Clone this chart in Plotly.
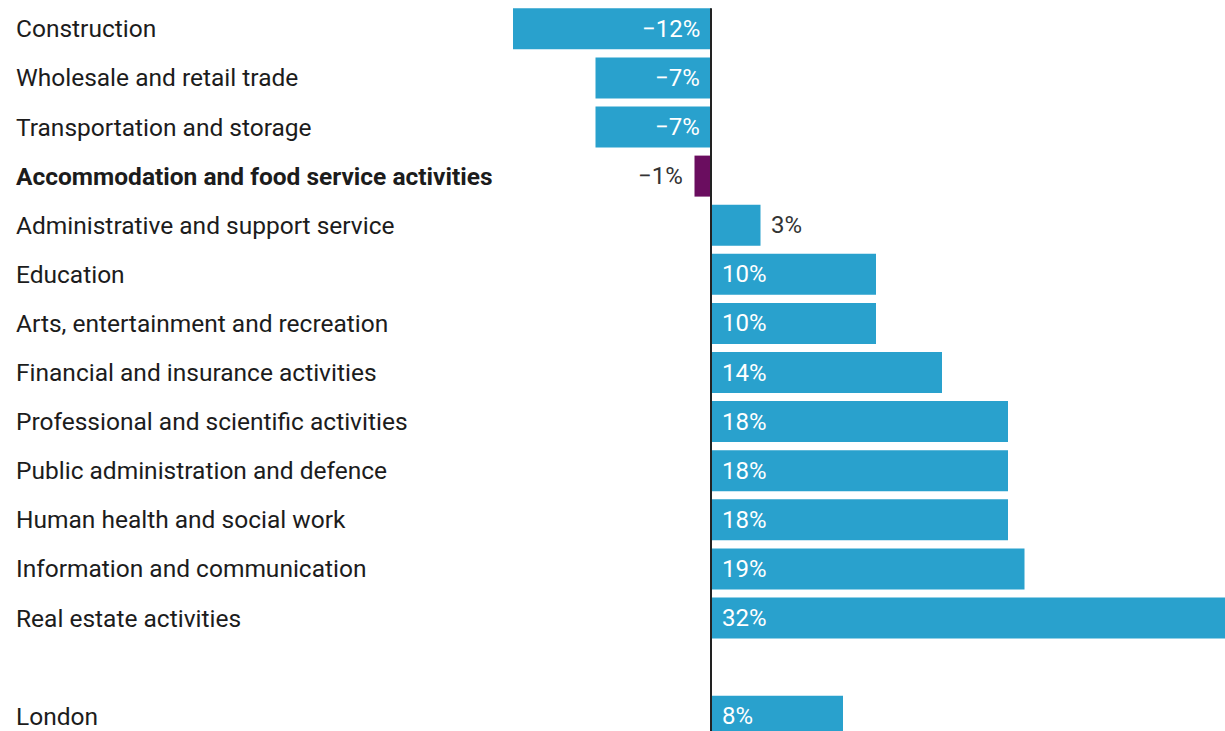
import plotly.graph_objects as go

# Change by sector, with London total shown separately below
sectors = [
    "Construction",
    "Wholesale and retail trade",
    "Transportation and storage",
    "Accommodation and food service activities",
    "Administrative and support service",
    "Education",
    "Arts, entertainment and recreation",
    "Financial and insurance activities",
    "Professional and scientific activities",
    "Public administration and defence",
    "Human health and social work",
    "Information and communication",
    "Real estate activities",
]
sector_values = [-12, -7, -7, -1, 3, 10, 10, 14, 18, 18, 18, 19, 32]
total_label = "London"
total_value = 8
highlight = "Accommodation and food service activities"

BLUE = "#29a1cd"
PURPLE = "#6a0d5f"
TEXT = "#1c1c1c"
FONT = "Roboto"
NAME_SIZE = 24.5
VALUE_SIZE = 24

labels = sectors + [total_label]
values = sector_values + [total_value]
# one empty row between the sectors and the total
positions = list(range(len(sectors))) + [len(sectors) + 1]
colors = [PURPLE if s == highlight else BLUE for s in labels]

W, H = 1225, 731
PX_PER_UNIT = 16.5
ZERO_PX = 711
ROW_PX = 49.1
FIRST_ROW_PX = 28.8

x_range = [-ZERO_PX / PX_PER_UNIT, (W - ZERO_PX) / PX_PER_UNIT]
y_range = [(H - FIRST_ROW_PX) / ROW_PX, -FIRST_ROW_PX / ROW_PX]

fig = go.Figure(
    go.Bar(
        x=values,
        y=positions,
        orientation="h",
        marker=dict(color=colors, line=dict(width=0)),
        width=0.835,
        hoverinfo="skip",
    )
)

annotations = []
for lab, v, p in zip(labels, values, positions):
    name = f"<b>{lab}</b>" if lab == highlight else lab
    annotations.append(dict(
        x=14 / W, xref="paper", y=p, yref="y", text=name, showarrow=False,
        xanchor="left", yanchor="middle",
        font=dict(family=FONT, size=NAME_SIZE, color=TEXT),
    ))
    txt = f"{v}%".replace("-", "\u2212")
    inside = abs(v) >= 5
    if v < 0:
        if inside:
            a = dict(x=0, xanchor="right", xshift=-9, color="white")
        else:
            a = dict(x=v, xanchor="right", xshift=-10, color="#333333")
    else:
        if inside:
            a = dict(x=0, xanchor="left", xshift=9, color="white")
        else:
            a = dict(x=v, xanchor="left", xshift=8, color="#333333")
    annotations.append(dict(
        x=a["x"], xref="x", y=p, yref="y", text=txt, showarrow=False,
        xanchor=a["xanchor"], xshift=a["xshift"], yanchor="middle",
        font=dict(family=FONT, size=VALUE_SIZE, color=a["color"]),
    ))

fig.update_layout(
    width=W, height=H,
    margin=dict(l=0, r=0, t=0, b=0),
    paper_bgcolor="white", plot_bgcolor="white",
    showlegend=False,
    xaxis=dict(range=x_range, visible=False, fixedrange=True),
    yaxis=dict(range=y_range, visible=False, fixedrange=True),
    annotations=annotations,
    shapes=[dict(
        type="line", xref="x", yref="y", x0=0, x1=0,
        y0=-0.835 / 2, y1=y_range[0] + 1,
        line=dict(color="#222222", width=2), layer="above",
    )],
    font=dict(family=FONT),
)

fig.write_html("out.html", config={"displayModeBar": False})
